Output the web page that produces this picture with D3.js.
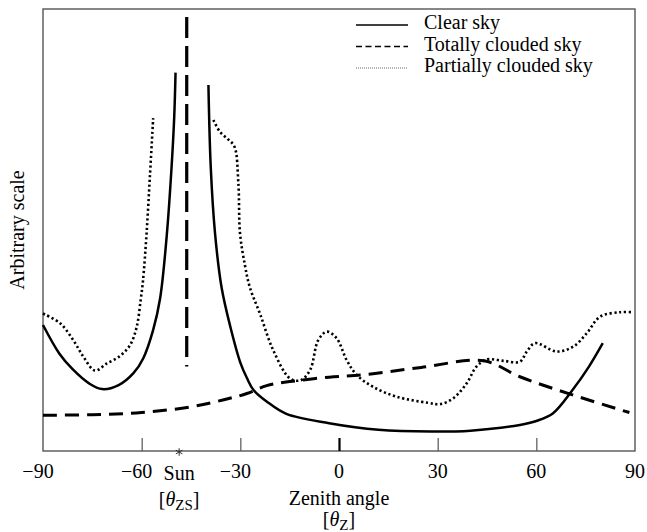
<!DOCTYPE html>
<html>
<head>
<meta charset="utf-8">
<script src="https://cdn.jsdelivr.net/npm/d3@7"></script>
<style>
  body { margin: 0; background: #fff; }
  svg text { font-family: "Liberation Serif", "Times New Roman", serif; fill: #000; }
</style>
</head>
<body>
<div id="chart"></div>
<script>
// values (x: zenith angle in degrees, y: arbitrary 0-100)
const clearSkyLeft = [
  [-90, 28.5], [-85, 22], [-81, 18.5], [-76, 15.3], [-72, 14], [-67, 14.9],
  [-62.5, 17.6], [-59.5, 21], [-56.5, 27.4], [-54.4, 34.5], [-52.4, 48.5],
  [-50.9, 64.3], [-50.1, 75.6], [-49.7, 85.6]
];
const clearSkyRight = [
  [-39.7, 82.8], [-39, 64.3], [-37.7, 49.3], [-35.7, 37], [-33, 28], [-30, 20],
  [-28, 16.5], [-26, 13.8], [-22, 11.2], [-16, 8.4], [-3, 6.3], [12, 4.8],
  [28, 4.4], [40, 4.6], [55, 5.9], [60, 6.8], [65, 8.5], [71, 13.8],
  [76, 19.1], [80.2, 24.4]
];
const cloudedSky = [
  [-90, 8.1], [-75, 8.2], [-60, 8.7], [-45, 10], [-35, 11.6], [-28, 13],
  [-22, 14.8], [-15, 15.7], [-3, 16.7], [8, 17.3], [25, 18.9], [44, 20.4],
  [55, 16.8], [71, 12.7], [88.3, 8.7]
];
const partialSkyLeft = [
  [-90, 31.1], [-84.8, 28.9], [-80.8, 25.1], [-77.7, 21.3], [-74.2, 18.2],
  [-70.6, 19.8], [-66.6, 21.5], [-63.5, 24], [-61.5, 28.1], [-60.3, 34.2],
  [-59.6, 38.5], [-58.5, 49.3], [-57.5, 62.1], [-56.5, 75.3]
];
const partialSkyRight = [
  [-38.2, 74.9], [-36.2, 72.2], [-33.7, 70.5], [-31.8, 68.9], [-30.6, 60.6],
  [-30.1, 49.3], [-28.6, 42], [-27.1, 37], [-24, 31], [-20, 22.8], [-14.9, 16.4],
  [-11.7, 16], [-8.8, 18.3], [-6.3, 25.1], [-3.7, 27], [-0.7, 25.5], [2.3, 20.6],
  [5.4, 17.2], [10.4, 14.5], [17.5, 12.3], [27, 10.9], [30.7, 10.6], [34.7, 11.9],
  [38.8, 15.3], [41.8, 19.1], [44.9, 20.7], [50, 20.4], [55, 20.2], [57.1, 22.5],
  [59.6, 24.4], [66.2, 22.5], [71.2, 23.6], [75.3, 26.6], [79.4, 30.4],
  [85.5, 31.4], [89, 31.4]
];
const sunLineX = -46.3;
const sunLineY = [19.1, 98.2];
const sunMarkX = -48.6;
const xTicks = [-90, -60, -30, 0, 30, 60, 90];
const legendLabels = ["Clear sky", "Totally clouded sky", "Partially clouded sky"];

const width = 647, height = 532;
const plotL = 43, plotR = 635, plotT = 9, plotB = 451;
const serif = '"Liberation Serif", "Times New Roman", serif';

const svg = d3.select("#chart").append("svg")
  .attr("width", width)
  .attr("height", height)
  .attr("font-family", serif);

const x = d3.scaleLinear().domain([-90, 90]).range([plotL, plotR]);
const y = d3.scaleLinear().domain([0, 100]).range([plotB, plotT]);

const line = d3.line()
  .x(d => x(d[0]))
  .y(d => y(d[1]))
  .curve(d3.curveCatmullRom.alpha(0.5));

// frame
svg.append("rect")
  .attr("x", plotL).attr("y", plotT)
  .attr("width", plotR - plotL).attr("height", plotB - plotT)
  .attr("fill", "none")
  .attr("stroke", "#555")
  .attr("stroke-width", 1.4);

// ticks pointing inward, labels below
const xAxis = d3.axisTop(x).tickValues(xTicks).tickSize(13).tickFormat("");
const ag = svg.append("g")
  .attr("transform", `translate(0,${plotB})`)
  .call(xAxis);
ag.select(".domain").remove();
ag.selectAll(".tick line")
  .attr("stroke", d => d === 0 ? "#000" : "#555")
  .attr("stroke-width", d => d === 0 ? 2.2 : 1.2)
  .style("display", d => (d === -90 || d === 90) ? "none" : null);

svg.append("g").selectAll("text")
  .data(xTicks)
  .enter().append("text")
  .attr("x", d => x(d) + (d < 0 ? -5 : 0))
  .attr("y", 478)
  .attr("text-anchor", "middle")
  .style("font-size", "20px")
  .text(d => d < 0 ? "\u2212" + Math.abs(d) : d);

// curves
svg.append("path").datum(cloudedSky)
  .attr("d", line).attr("fill", "none")
  .attr("stroke", "#000").attr("stroke-width", 3)
  .attr("stroke-dasharray", "14,8");

[partialSkyLeft, partialSkyRight].forEach(s => {
  svg.append("path").datum(s)
    .attr("d", line).attr("fill", "none")
    .attr("stroke", "#000").attr("stroke-width", 2.6)
    .attr("stroke-dasharray", "2.2,2.6");
});

[clearSkyLeft, clearSkyRight].forEach(s => {
  svg.append("path").datum(s)
    .attr("d", line).attr("fill", "none")
    .attr("stroke", "#000").attr("stroke-width", 2.5);
});

// sun direction
svg.append("line")
  .attr("x1", x(sunLineX)).attr("x2", x(sunLineX))
  .attr("y1", y(sunLineY[1])).attr("y2", y(sunLineY[0]))
  .attr("stroke", "#000").attr("stroke-width", 3.2)
  .attr("stroke-dasharray", "21,8");

// sun position marker on the axis
svg.append("path")
  .attr("d", d3.symbol(d3.symbolAsterisk, 40)())
  .attr("transform", `translate(${x(sunMarkX)},${plotB + 1})`)
  .attr("fill", "none")
  .attr("stroke", "#333")
  .attr("stroke-width", 1);

svg.append("text")
  .attr("x", x(sunMarkX)).attr("y", 480)
  .attr("text-anchor", "middle")
  .style("font-size", "20px")
  .text("Sun");

const zs = svg.append("text")
  .attr("x", x(sunMarkX)).attr("y", 506)
  .attr("text-anchor", "middle")
  .style("font-size", "20px");
zs.append("tspan").text("[");
zs.append("tspan").style("font-style", "italic").text("\u03b8");
zs.append("tspan").attr("dy", 4).style("font-size", "15px").text("ZS");
zs.append("tspan").attr("dy", -4).text("]");

// axis titles
svg.append("text")
  .attr("x", x(0)).attr("y", 505)
  .attr("text-anchor", "middle")
  .style("font-size", "20px")
  .text("Zenith angle");

const zt = svg.append("text")
  .attr("x", x(0)).attr("y", 526)
  .attr("text-anchor", "middle")
  .style("font-size", "20px");
zt.append("tspan").text("[");
zt.append("tspan").style("font-style", "italic").text("\u03b8");
zt.append("tspan").attr("dy", 4).style("font-size", "15px").text("Z");
zt.append("tspan").attr("dy", -4).text("]");

svg.append("text")
  .attr("transform", `translate(24,${(plotT + plotB) / 2}) rotate(-90)`)
  .attr("text-anchor", "middle")
  .style("font-size", "20px")
  .text("Arbitrary scale");

// legend
const legend = svg.append("g").attr("transform", "translate(356,25)");
const legendStyles = [
  { dash: null, w: 1.6, c: "#000" },
  { dash: "6,3.5", w: 1.6, c: "#000" },
  { dash: "1,1", w: 1, c: "#666" }
];
legendLabels.forEach((label, i) => {
  const row = legend.append("g").attr("transform", `translate(0,${i * 21.5})`);
  row.append("line")
    .attr("x1", 0).attr("x2", 52).attr("y1", 0).attr("y2", 0)
    .attr("stroke", legendStyles[i].c)
    .attr("stroke-width", legendStyles[i].w)
    .attr("stroke-dasharray", legendStyles[i].dash);
  row.append("text")
    .attr("x", 68).attr("y", 4)
    .style("font-size", "20px")
    .text(label);
});
</script>
</body>
</html>
